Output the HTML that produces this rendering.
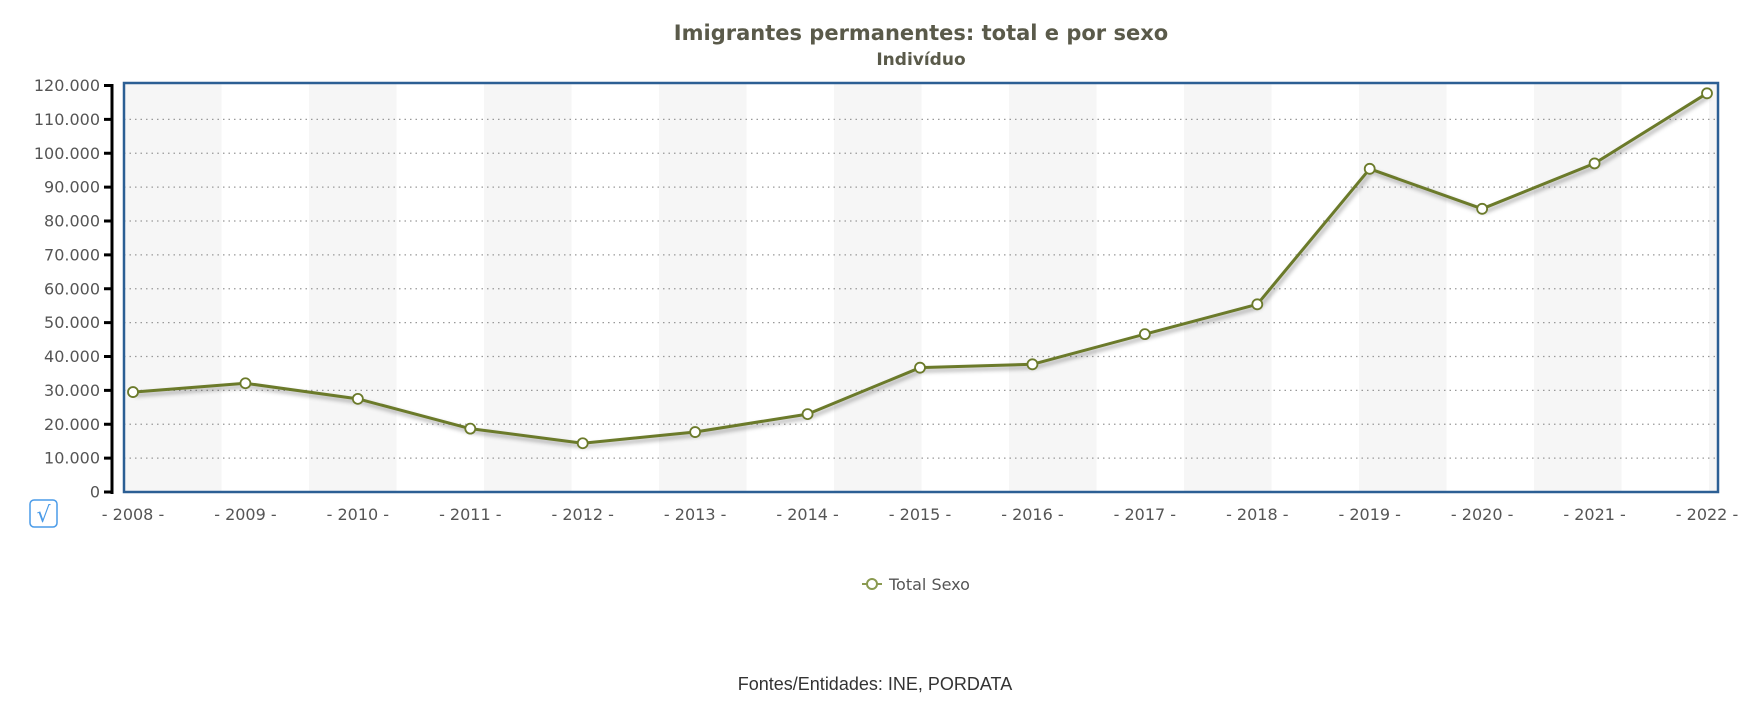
<!DOCTYPE html>
<html><head><meta charset="utf-8"><style>
html,body{margin:0;padding:0;background:#fff;}
svg{display:block;}
</style></head><body>
<svg id="chart" width="1740" height="713" viewBox="0 0 1740 713" xmlns="http://www.w3.org/2000/svg">
<defs><filter id="sh" x="-5%" y="-5%" width="110%" height="120%"><feGaussianBlur stdDeviation="2"/></filter></defs>
<text x="921" y="40" text-anchor="middle" font-family="DejaVu Sans, Verdana, sans-serif" font-weight="bold" font-size="21" fill="#5a5a4a">Imigrantes permanentes: total e por sexo</text>
<text x="921" y="65" text-anchor="middle" font-family="DejaVu Sans, Verdana, sans-serif" font-weight="bold" font-size="17" fill="#5a5a4a">Indivíduo</text>
<g id="bands"></g><g id="grid"></g><g id="yaxis"></g><g id="xaxis"></g><g id="series"></g>
<rect x="124" y="83" width="1594" height="409" fill="none" stroke="#2c5f94" stroke-width="2.5"/>
<g>
<rect x="30" y="500" width="27" height="27" rx="4" fill="#fff" stroke="#4a9be8" stroke-width="1.5"/>
<text x="43.5" y="522" text-anchor="middle" font-family="DejaVu Sans, sans-serif" font-size="22" fill="#4a9be8">√</text>
</g>
<g>
<line x1="862" y1="584" x2="882" y2="584" stroke="#8a9a50" stroke-width="2"/>
<circle cx="872" cy="584" r="5" fill="#fff" stroke="#8a9a50" stroke-width="2"/>
<text x="889" y="590" font-family="DejaVu Sans, Verdana, sans-serif" font-size="16" fill="#555">Total Sexo</text>
</g>
<text x="875" y="690" text-anchor="middle" font-family="Liberation Sans, Arial, sans-serif" font-size="18" fill="#333">Fontes/Entidades: INE, PORDATA</text>
</svg>
<script>
const years = ['2008','2009','2010','2011','2012','2013','2014','2015','2016','2017','2018','2019','2020','2021','2022'];
const totals = [29500,32100,27500,18700,14400,17700,23000,36700,37700,46600,55400,95400,83600,97000,117700];
const yTicks = [0,10000,20000,30000,40000,50000,60000,70000,80000,90000,100000,110000,120000];
const yTickLabels = ['0','10.000','20.000','30.000','40.000','50.000','60.000','70.000','80.000','90.000','100.000','110.000','120.000'];

const NS='http://www.w3.org/2000/svg';
const L=124,R=1718,T=83,B=492,Y0=492,Y120=85.5,X0=133,X1=1707;
function y(v){return Y0-(v/120000)*(Y0-Y120);}
function x(i){return X0+i*(X1-X0)/(years.length-1);}
function mk(tag,attrs,parent){const e=document.createElementNS(NS,tag);for(const k in attrs)e.setAttribute(k,attrs[k]);parent.appendChild(e);return e;}

const bands=document.getElementById('bands');
for(let bx=309-175;bx<R;bx+=175){
  const x0=bx<200?L:bx,x1=Math.min(R,bx+87.5);
  const r=mk('rect',{x:x0,y:T,width:x1-x0,height:B-T,fill:'#f6f6f6'},bands);
  
  
}
const grid=document.getElementById('grid'),ya=document.getElementById('yaxis'),xa=document.getElementById('xaxis');
mk('line',{x1:112,y1:84,x2:112,y2:494,stroke:'#000','stroke-width':3},ya);
yTicks.forEach((v,i)=>{
  const yy=y(v);
  if(v>0&&v<120000){const g=mk('line',{x1:L,y1:yy,x2:R,y2:yy,stroke:'#999','stroke-width':1.2,'stroke-dasharray':'1.5,4'},grid);
    
    }
  mk('line',{x1:104,y1:yy,x2:112,y2:yy,stroke:'#000','stroke-width':3},ya);
  const t=mk('text',{x:100,y:yy+5.5,'text-anchor':'end','font-family':'DejaVu Sans, Verdana, sans-serif','font-size':'16',fill:'#555'},ya);
  t.textContent=yTickLabels[i];
  
  
});
years.forEach((yr,i)=>{
  const t=mk('text',{x:x(i),y:520,'text-anchor':'middle','font-family':'DejaVu Sans, Verdana, sans-serif','font-size':'16',fill:'#555'},xa);
  t.textContent='- '+yr+' -';
  
  
});
const s=document.getElementById('series');
const pts=totals.map((v,i)=>x(i)+','+y(v)).join(' ');
const shp=totals.map((v,i)=>(x(i)+2)+','+(y(v)+3)).join(' ');
mk('polyline',{points:shp,fill:'none',stroke:'#000','stroke-opacity':0.35,'stroke-width':3,filter:'url(#sh)'},s);
const pl=mk('polyline',{points:pts,fill:'none',stroke:'#6b7a2a','stroke-width':3,'stroke-linejoin':'round'},s);


totals.forEach((v,i)=>{
  const c=mk('circle',{cx:x(i),cy:y(v),r:5,fill:'#fff',stroke:'#6b7a2a','stroke-width':1.8},s);
  
  
});
</script>
</body></html>
